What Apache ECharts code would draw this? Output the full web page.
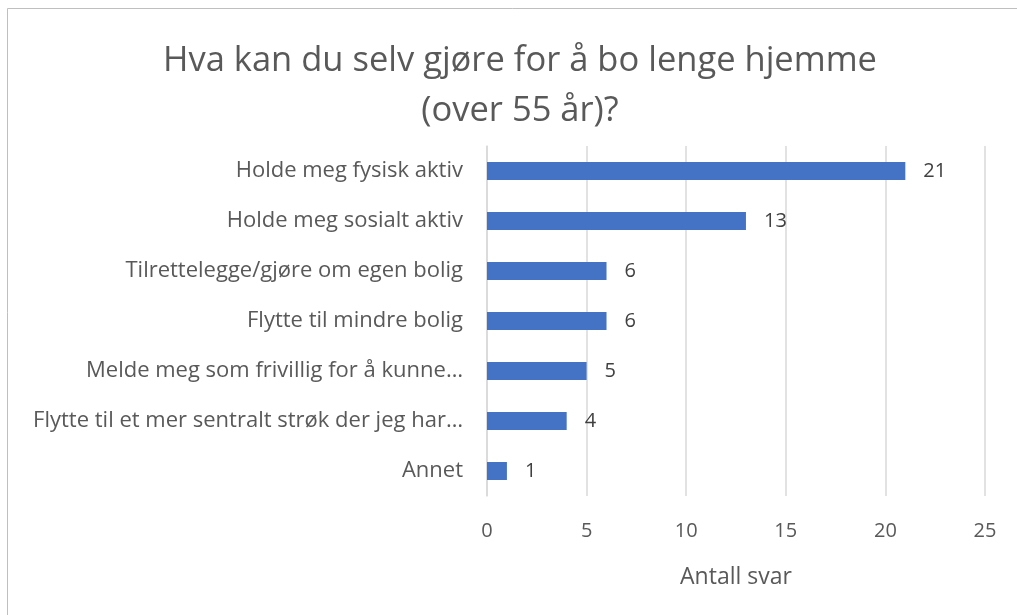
<!DOCTYPE html>
<html>
<head>
<meta charset="utf-8">
<script src="https://cdn.jsdelivr.net/npm/echarts@6/dist/echarts.min.js"></script>
<style>
  html, body { margin: 0; padding: 0; background: #fff; }
  #chart { width: 1017px; height: 615px; }
</style>
</head>
<body>
<div id="chart"></div>
<script>
// Kategorier (nederst først, siden y-aksen tegnes nedenfra)
const categories = [
  'Annet',
  'Flytte til et mer sentralt strøk der jeg har…',
  'Melde meg som frivillig for å kunne…',
  'Flytte til mindre bolig',
  'Tilrettelegge/gjøre om egen bolig',
  'Holde meg sosialt aktiv',
  'Holde meg fysisk aktiv'
];
const antallSvar = [1, 4, 5, 6, 6, 13, 21];
const xTicks = [0, 5, 10, 15, 20, 25];

const chart = echarts.init(document.getElementById('chart'));
const font = '"Open Sans", Lato, sans-serif';

chart.setOption({
  animation: false,
  graphic: [{
    type: 'rect',
    shape: { x: 7.5, y: 8.5, width: 1030, height: 640 },
    style: { fill: 'none', stroke: '#bfbfbf', lineWidth: 1 },
    silent: true
  }],
  title: {
    text: 'Hva kan du selv gjøre for å bo lenge hjemme\n(over 55 år)?',
    left: 515,
    top: 31,
    textAlign: 'center',
    textStyle: {
      fontFamily: font,
      fontSize: 34.5,
      fontWeight: 'normal',
      color: '#595959',
      lineHeight: 50
    }
  },
  grid: { left: 487, right: 32, top: 146, bottom: 119 },
  xAxis: {
    type: 'value',
    min: 0,
    max: 25,
    interval: 5,
    name: 'Antall svar',
    nameLocation: 'middle',
    nameGap: 70,
    nameTextStyle: { fontFamily: font, fontSize: 23, color: '#595959' },
    axisLine: { show: false },
    axisTick: { show: false },
    axisLabel: {
      fontFamily: font, fontSize: 20, color: '#595959', margin: 25,
      formatter: (v) => xTicks.includes(v) ? String(v) : ''
    },
    splitLine: { lineStyle: { color: '#d9d9d9', width: 1.5 } }
  },
  yAxis: {
    type: 'category',
    data: categories,
    axisLine: { show: true, lineStyle: { color: '#d9d9d9', width: 1.5 } },
    axisTick: { show: false },
    axisLabel: { fontFamily: font, fontSize: 22, color: '#595959', margin: 24 }
  },
  series: [{
    type: 'bar',
    data: antallSvar,
    barWidth: 18,
    itemStyle: { color: '#4472c4' },
    label: {
      show: true,
      position: 'right',
      distance: 18,
      fontFamily: font,
      fontSize: 20,
      color: '#404040'
    }
  }]
});
</script>
</body>
</html>
